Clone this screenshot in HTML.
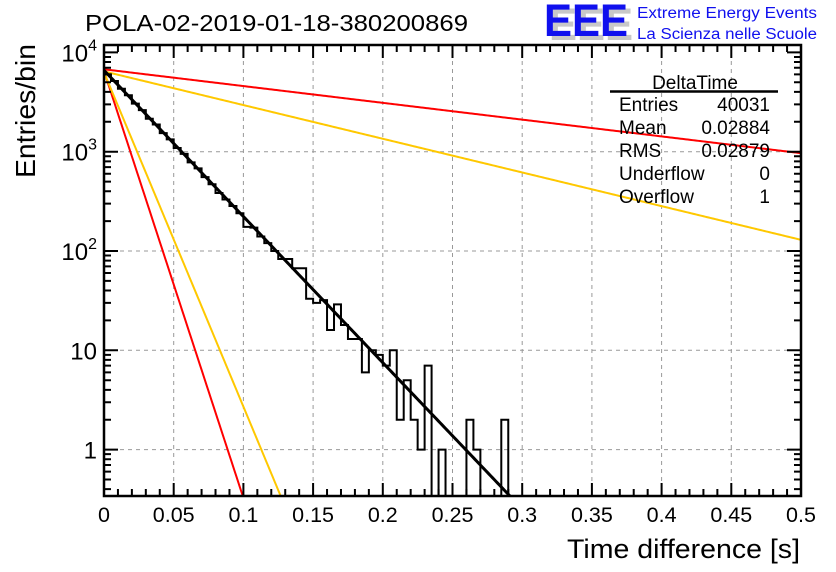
<!DOCTYPE html>
<html><head><meta charset="utf-8"><style>
html,body{margin:0;padding:0;background:#fff;}
svg{display:block;font-family:"Liberation Sans",sans-serif;}
</style></head><body>
<svg id="chart" width="836" height="572" viewBox="0 0 836 572">
<rect width="836" height="572" fill="#fff"/>
<text x="85" y="31" font-size="23" textLength="383" lengthAdjust="spacingAndGlyphs">POLA-02-2019-01-18-380200869</text>
<g>
<text x="549" y="40" font-size="45" font-weight="bold" fill="#c8c8c8" textLength="84" lengthAdjust="spacingAndGlyphs">EEE</text>
<text x="544" y="36" font-size="45" font-weight="bold" fill="#1010ee" textLength="84" lengthAdjust="spacingAndGlyphs">EEE</text>
<text x="637" y="18" font-size="15.5" fill="#1010ee" textLength="180" lengthAdjust="spacingAndGlyphs">Extreme Energy Events</text>
<text x="637" y="39" font-size="15.5" fill="#1010ee" textLength="180" lengthAdjust="spacingAndGlyphs">La Scienza nelle Scuole</text>
</g>
<g id="grid"></g>
<g id="curves"></g>
<g id="hist"></g>
<g id="axes"></g>
<g font-size="19">
<text x="695" y="89" text-anchor="middle">DeltaTime</text>
<line x1="610" y1="91.5" x2="778" y2="91.5" stroke="#000" stroke-width="2.5"/>
<text x="619" y="111">Entries</text><text x="770" y="111" text-anchor="end">40031</text>
<text x="619" y="134">Mean</text><text x="770" y="134" text-anchor="end">0.02884</text>
<text x="619" y="157">RMS</text><text x="770" y="157" text-anchor="end">0.02879</text>
<text x="619" y="180">Underflow</text><text x="770" y="180" text-anchor="end">0</text>
<text x="619" y="203">Overflow</text><text x="770" y="203" text-anchor="end">1</text>
</g>
<text x="800" y="558" font-size="27" text-anchor="end" textLength="233" lengthAdjust="spacingAndGlyphs">Time difference [s]</text>
<text transform="translate(35,44) rotate(-90)" font-size="28" text-anchor="end" textLength="134" lengthAdjust="spacingAndGlyphs">Entries/bin</text>
</svg>
<script>
const binCounts = [6000,5150,4300,3700,3050,2620,2150,1880,1540,1330,1090,950,780,680,555,470,384,330,284,240,175,172,140,120,100,83,83,67,67,33,30,32,16,29,18,13,13,6,10,9,7,10,2,5,2,1,7,0,1,0,0,0,2,1,0,0,0,2,0,0];
const binWidth = 0.005;
const fitBlack = [6600, 0.0295];
const redSteep = [6500, 0.0101];
const yellowSteep = [6300, 0.0129];
const redShallow = [6760, 0.257];
const yellowShallow = [6440, 0.128];
const xTicks = [0,0.05,0.1,0.15,0.2,0.25,0.3,0.35,0.4,0.45,0.5];
const xTickLabels = ["0","0.05","0.1","0.15","0.2","0.25","0.3","0.35","0.4","0.45","0.5"];
const yDecades = [0,1,2,3,4];

const L=104,R=801,T=45,B=496;
const X=v=>L+(v/0.5)*(R-L);
const Y=v=>151.7-99.3*(Math.log10(v)-3);
const NS="http://www.w3.org/2000/svg";
function mk(tag,attrs,parent){const e=document.createElementNS(NS,tag);for(const k in attrs)e.setAttribute(k,attrs[k]);parent.appendChild(e);return e;}
const grid=document.getElementById('grid'),axes=document.getElementById('axes'),curves=document.getElementById('curves'),hist=document.getElementById('hist');

xTicks.forEach((t,i)=>{
  if(i>0&&i<xTicks.length-1){const g=mk('line',{x1:X(t),x2:X(t),y1:T,y2:B,stroke:'#999','stroke-dasharray':'4,4','stroke-width':1},grid);
  
  }
  const tx=mk('text',{x:X(t),y:522,'font-size':21.5,'text-anchor':'middle'},axes);
  tx.textContent=xTickLabels[i];
  
  
});
yDecades.forEach(d=>{
  const y=Y(Math.pow(10,d));
  if(d<4){const g=mk('line',{x1:L,x2:R,y1:y,y2:y,stroke:'#999','stroke-dasharray':'4,4','stroke-width':1},grid);
  
  }
  const tx=mk('text',{x:97,y:y+9,'font-size':24,'text-anchor':'end'},axes);
  
  
  if(d===0)tx.textContent='1';
  else if(d===1)tx.textContent='10';
  else{tx.textContent='10';const s=mk('tspan',{dy:-11,'font-size':16},tx);s.textContent=String(d);}
});
let tp='';
for(let i=0;i<=50;i++){const x=X(i*0.01);const len=(i%5===0)?13:7;tp+=`M${x},${B}v${-len}M${x},${T}v${len}`;}
for(let d=-1;d<=4;d++){for(let m=1;m<=9;m++){const v=m*Math.pow(10,d);const y=Y(v);if(y<T||y>B)continue;const len=m===1?14:7;tp+=`M${L},${y}h${len}M${R},${y}h${-len}`;}}
const ticks=mk('path',{d:tp,stroke:'#000','stroke-width':2,fill:'none'},axes);


const frame=mk('rect',{x:L,y:T,width:R-L,height:B-T,fill:'none',stroke:'#000','stroke-width':2.5},axes);



function curve(p,color,name,w){
  let d='';
  for(let i=0;i<=400;i++){const t=i*0.5/400;const v=p[0]*Math.exp(-t/p[1]);let y=Y(v);if(y>B){const tb=-p[1]*Math.log(Math.pow(10,(151.7-B)/99.3+3)/p[0]);d+=`L${X(tb)},${B}`;break;}d+=(i?'L':'M')+X(t)+','+y;}
  const e=mk('path',{d:d,stroke:color,'stroke-width':w,fill:'none'},curves);
  
  
}
curve(redShallow,'#ff0000','red-shallow-curve',2);
curve(yellowShallow,'#ffc800','yellow-shallow-curve',2);
curve(redSteep,'#ff0000','red-steep-curve',2);
curve(yellowSteep,'#ffc800','yellow-steep-curve',2);

const yv=v=>v>0?Math.min(B,Y(v)):B;
let hd=`M${X(0)},${yv(binCounts[0])}`;
binCounts.forEach((c,i)=>{const y=yv(c);hd+=`L${X(i*binWidth)},${y}L${X((i+1)*binWidth)},${y}`;if(i+1<binCounts.length)hd+=`L${X((i+1)*binWidth)},${yv(binCounts[i+1])}`;});
const h=mk('path',{d:hd,stroke:'#000','stroke-width':2,fill:'none'},hist);


curve(fitBlack,'#000','fit-curve',3);
hist.appendChild(curves.lastChild);
</script>
</body></html>
